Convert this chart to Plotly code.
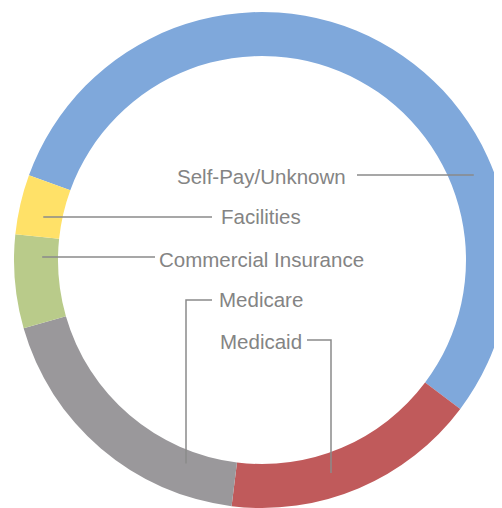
import math
import plotly.graph_objects as go

# ---- data ----
labels = ["Self-Pay/Unknown", "Medicaid", "Medicare", "Commercial Insurance", "Facilities"]
values = [54.7, 16.7, 18.6, 6.1, 3.9]
colors = ["#7FA8DB", "#C05A5B", "#9A989B", "#B9CB8A", "#FFE168"]

# ---- layout geometry (screen pixels; page body adds an 8px offset) ----
W, H = 502, 508
OFF = 8
CX, CY, R = 262, 260, 248
RI = 204
HOLE = RI / R

def px(x):
    return (x - OFF) / W

def py(y):
    return 1 - (y - OFF) / H

def ring_r(frac):
    return RI + (R - RI) * frac

fig = go.Figure(go.Pie(
    labels=labels, values=values, sort=False, direction="clockwise",
    rotation=290, hole=HOLE, marker=dict(colors=colors, line=dict(width=0)),
    textinfo="none", hoverinfo="label+percent", showlegend=False,
    domain=dict(x=[px(CX - R), min(1.0, px(CX + R))], y=[py(CY + R), py(CY - R)]),
))

label_y = {"Self-Pay/Unknown": 176, "Facilities": 217, "Commercial Insurance": 259,
           "Medicare": 299, "Medicaid": 341}
font = dict(family="Liberation Sans, Arial, Helvetica", size=20.5, color="#848484")
TX = 261
line = dict(color="#8A8A8A", width=1.5)

for lab in labels:
    fig.add_annotation(x=px(TX), y=py(label_y[lab]), xref="paper", yref="paper",
                       text=lab, showarrow=False, xanchor="center", yanchor="middle",
                       font=font)

def hline(y, x0, frac, side):
    r = ring_r(frac)
    x1 = CX + side * math.sqrt(r * r - (y - CY) ** 2)
    fig.add_shape(type="line", xref="paper", yref="paper",
                  x0=px(x0), x1=px(x1), y0=py(y), y1=py(y), line=line)

def elbow(y, x0, xv, frac):
    r = ring_r(frac)
    yb = CY + math.sqrt(r * r - (xv - CX) ** 2)
    fig.add_shape(type="path", xref="paper", yref="paper",
                  path=f"M {px(x0)} {py(y)} L {px(xv)} {py(y)} L {px(xv)} {py(yb)}",
                  line=line)

hline(175, 357, 0.55, 1)
hline(217, 212, 0.43, -1)
hline(257, 155, 0.36, -1)
elbow(300, 212, 186, 0.3)
elbow(340, 307, 331, 0.45)

fig.update_layout(width=W, height=H, margin=dict(l=0, r=0, t=0, b=0),
                  paper_bgcolor="white", plot_bgcolor="white", showlegend=False)

fig.write_html("out.html")
